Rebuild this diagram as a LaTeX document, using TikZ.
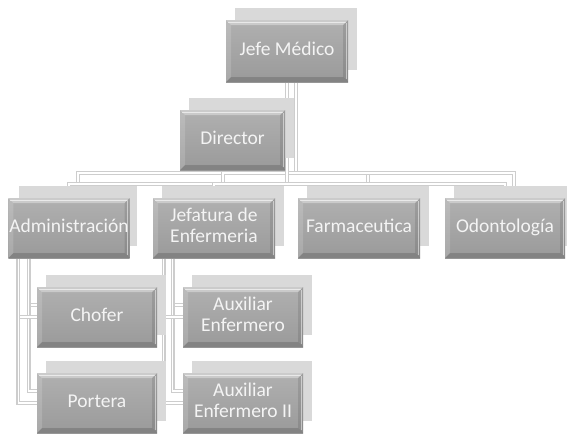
\documentclass[tikz,border=0pt]{standalone}
\usepackage{fontspec}
\setmainfont{Carlito}
\pgfdeclarelayer{bg}
\pgfsetlayers{bg,main}
\definecolor{boxtop}{HTML}{B0B0B0}
\definecolor{boxbot}{HTML}{9A9A9A}
\definecolor{shadowgray}{HTML}{D9D9D9}
\definecolor{linegray}{HTML}{CDCDCD}
\definecolor{txt}{HTML}{F4F4F4}
\newcommand\bbx{path picture bounding box}
\tikzset{
  mainbox/.style={rectangle, inner sep=1pt, top color=boxtop, bottom color=boxbot,
    text=txt, align=center, font=\fontsize{19.5}{21}\selectfont,
    execute at begin node=\strut, execute at end node=\strut,
    path picture={
      \fill[white,opacity=0.35] (\bbx.north west) -- (\bbx.north east) -- ([shift={(-5pt,-5pt)}]\bbx.north east) -- ([shift={(5pt,-5pt)}]\bbx.north west) -- cycle;
      \draw[white,opacity=0.6,line width=0.8pt] ([shift={(2pt,-2pt)}]\bbx.north west) -- ([shift={(-2pt,-2pt)}]\bbx.north east);
      \fill[white,opacity=0.15] (\bbx.north west) -- ([shift={(5pt,-5pt)}]\bbx.north west) -- ([shift={(5pt,5pt)}]\bbx.south west) -- (\bbx.south west) -- cycle;
      \fill[black,opacity=0.10] (\bbx.north east) -- ([shift={(-5pt,-5pt)}]\bbx.north east) -- ([shift={(-5pt,5pt)}]\bbx.south east) -- (\bbx.south east) -- cycle;
      \draw[white,opacity=0.5,line width=0.8pt] ([shift={(-2pt,-3pt)}]\bbx.north east) -- ([shift={(-2pt,3pt)}]\bbx.south east);
      \fill[black,opacity=0.15] (\bbx.south west) -- ([shift={(5pt,5pt)}]\bbx.south west) -- ([shift={(-5pt,5pt)}]\bbx.south east) -- (\bbx.south east) -- cycle;
    }},
  shadowbox/.style={rectangle, fill=shadowgray, inner sep=0pt},
  conn/.style={draw=linegray, line width=1.1pt, double=white, double distance=1.2pt}
}
% name, x, y, width, height, text
\newcommand\orgbox[6]{%
  \node[shadowbox, minimum width=#4pt, minimum height=#5pt] (#1S) at (#2+9,#3-12) {};
  \node[mainbox, minimum width=#4pt, minimum height=#5pt] (#1) at (#2,#3) {#6};
}
\begin{document}
\begin{tikzpicture}[x=1pt,y=-1pt]
\useasboundingbox (0,0) rectangle (567,434);
\orgbox{jefe}{287}{51}{122}{62}{Jefe Médico}
\orgbox{dir}{232.5}{140}{105}{60}{Director}
\orgbox{admin}{69}{228}{118}{60}{Administración}
\orgbox{jef}{214}{228}{122}{60}{Jefatura de\\Enfermeria}
\orgbox{farm}{359}{228}{122}{60}{Farmaceutica}
\orgbox{odon}{505}{228}{120}{60}{Odontología}
\orgbox{chofer}{97}{317}{120}{60}{Chofer}
\orgbox{portera}{97}{403}{120}{60}{Portera}
\orgbox{auxa}{243}{317}{120}{60}{Auxiliar\\Enfermero}
\orgbox{auxb}{243}{403}{120}{60}{Auxiliar\\Enfermero II}
\coordinate (busS) at (296,173);
\coordinate (busM) at (287,184);
\begin{pgfonlayer}{bg}
  \fill[white] (0,0) rectangle (567,434);
  % shadow connectors
  \draw[conn] (jefeS.south) -- (busS);
  \draw[conn] (adminS.north) |- (busS);
  \draw[conn] (jefS.north) |- (busS);
  \draw[conn] (farmS.north) |- (busS);
  \draw[conn] (odonS.north) |- (busS);
  \draw[conn] ([xshift=10pt]adminS.south west) |- (choferS.west);
  \draw[conn] ([xshift=10pt]adminS.south west) |- (porteraS.west);
  \draw[conn] ([xshift=11pt]jefS.south west) |- (auxaS.west);
  \draw[conn] ([xshift=11pt]jefS.south west) |- (auxbS.west);
  % main connectors
  \draw[conn] (jefe.south) -- (busM);
  \draw[conn] (admin.north) |- (busM);
  \draw[conn] (jef.north) |- (busM);
  \draw[conn] (farm.north) |- (busM);
  \draw[conn] (odon.north) |- (busM);
  \draw[conn] ([xshift=10pt]admin.south west) |- (chofer.west);
  \draw[conn] ([xshift=10pt]admin.south west) |- (portera.west);
  \draw[conn] ([xshift=11pt]jef.south west) |- (auxa.west);
  \draw[conn] ([xshift=11pt]jef.south west) |- (auxb.west);
\end{pgfonlayer}
\end{tikzpicture}
\end{document}
